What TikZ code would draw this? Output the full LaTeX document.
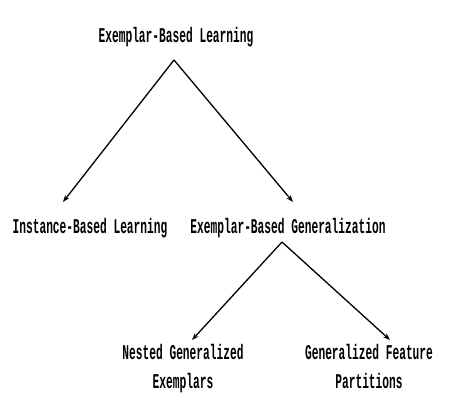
\documentclass[tikz,border=0pt]{standalone}
\usepackage{fontspec}
\newfontfamily\condmono{Liberation Mono}[FakeStretch=0.534]
\usetikzlibrary{arrows.meta}
\begin{document}
\begin{tikzpicture}[x=1pt,y=-1pt,
  lbl/.style={font=\condmono\bfseries\fontsize{21}{29}\selectfont, inner sep=0pt, align=center, anchor=base},
  arr/.style={line width=1.3pt, -{Stealth[length=7pt,width=5pt]}}]
\useasboundingbox (0,0) rectangle (452,411);
\node[lbl] (ebl) at (176,43) {Exemplar-Based Learning};
\node[lbl] (ibl) at (90,234) {Instance-Based Learning};
\node[lbl] (ebg) at (288,234) {Exemplar-Based Generalization};
\node[lbl] (nge) at (183,388) {Nested Generalized\\Exemplars};
\node[lbl] (gfp) at (369,388) {Generalized Feature\\Partitions};
\coordinate (a1) at (174,60);
\coordinate (l1) at (63,202);
\coordinate (r1) at (293,202);
\coordinate (a2) at (282,242);
\coordinate (l2) at (192,340);
\coordinate (r2) at (390,340);
\draw[arr] (a1) -- (l1);
\draw[arr] (a1) -- (r1);
\draw[arr] (a2) -- (l2);
\draw[arr] (a2) -- (r2);
\end{tikzpicture}
\end{document}
